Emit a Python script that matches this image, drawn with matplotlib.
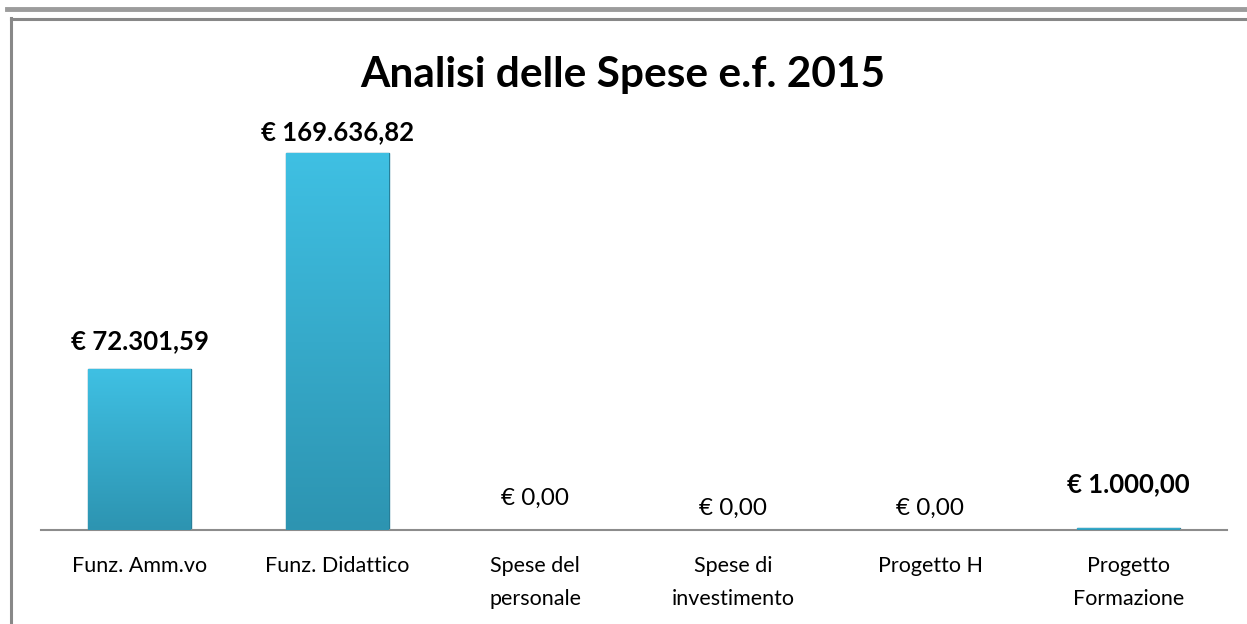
#!/usr/bin/env python
"""Bar chart of the 2015 expense analysis."""

import numpy as np
import matplotlib
matplotlib.use("Agg")
import matplotlib.pyplot as plt
from matplotlib.lines import Line2D
from matplotlib.colors import LinearSegmentedColormap

# Data
categories = ["Funz. Amm.vo", "Funz. Didattico", "Spese del\npersonale",
              "Spese di\ninvestimento", "Progetto H", "Progetto\nFormazione"]
values = [72301.59, 169636.82, 0.0, 0.0, 0.0, 1000.00]
labels = ["€ 72.301,59", "€ 169.636,82", "€ 0,00", "€ 0,00", "€ 0,00", "€ 1.000,00"]
title = "Analisi delle Spese e.f. 2015"

# label offsets above the bar top (pixels), as placed in the original
label_offsets = [28, 21, 32, 22, 22, 44]

plt.rcParams['font.family'] = ['Lato', 'DejaVu Sans']

W, H = 1247, 624
fig = plt.figure(figsize=(W / 100, H / 100), dpi=100)

# outer decoration lines
fig.add_artist(Line2D([7 / W, 1], [1 - 9 / H] * 2, color='#9c9c9c', lw=3.5,
                      transform=fig.transFigure))
fig.add_artist(Line2D([11 / W, 1], [1 - 19 / H] * 2, color='#888888', lw=2.2,
                      transform=fig.transFigure))
fig.add_artist(Line2D([11 / W] * 2, [0, 1 - 18 / H], color='#888888', lw=2.2,
                      transform=fig.transFigure))

left, right = 41, 1227
base_y, top_y = 530, 130
ax = fig.add_axes([left / W, (H - base_y) / H, (right - left) / W, (base_y - top_y) / H])

x = np.arange(len(categories))
bars = ax.bar(x, values, width=0.52, color='#37b0d3', edgecolor='#277f99', linewidth=1.0, zorder=2)

# vertical gradient fill inside each bar
cmap = LinearSegmentedColormap.from_list('bar', ['#2d94b1', '#3fc0e3'])
grad = np.linspace(0, 1, 256).reshape(-1, 1)
for b in bars:
    if b.get_height() <= 0:
        continue
    x0, w, h = b.get_x(), b.get_width(), b.get_height()
    im = ax.imshow(grad, cmap=cmap, aspect='auto', origin='lower',
                   extent=[x0, x0 + w, 0, h], zorder=3)
    im.set_clip_path(b)

ax.set_xlim(-0.5, len(categories) - 0.5)
ax.set_ylim(0, 180000)

for i, (v, lab) in enumerate(zip(values, labels)):
    ax.annotate(lab, (x[i], v), xytext=(0, label_offsets[i] * 0.72), textcoords='offset points',
                ha='center', va='center', fontsize=18.5 if v > 0 else 17.5,
                fontweight='bold' if v > 0 else 'normal', color='black')

ax.set_xticks(x)
ax.set_xticklabels(categories, fontsize=15.5, linespacing=1.8, va='top')
ax.tick_params(axis='x', length=0, pad=19)
ax.set_yticks([])
for side in ['left', 'right', 'top']:
    ax.spines[side].set_visible(False)
ax.spines['bottom'].set_color('#8c8c8c')
ax.spines['bottom'].set_linewidth(1.5)

fig.text(623 / W, 1 - 75 / H, title, ha='center', va='center', fontsize=30.5, fontweight='bold')

fig.savefig("out.png", dpi=100)
